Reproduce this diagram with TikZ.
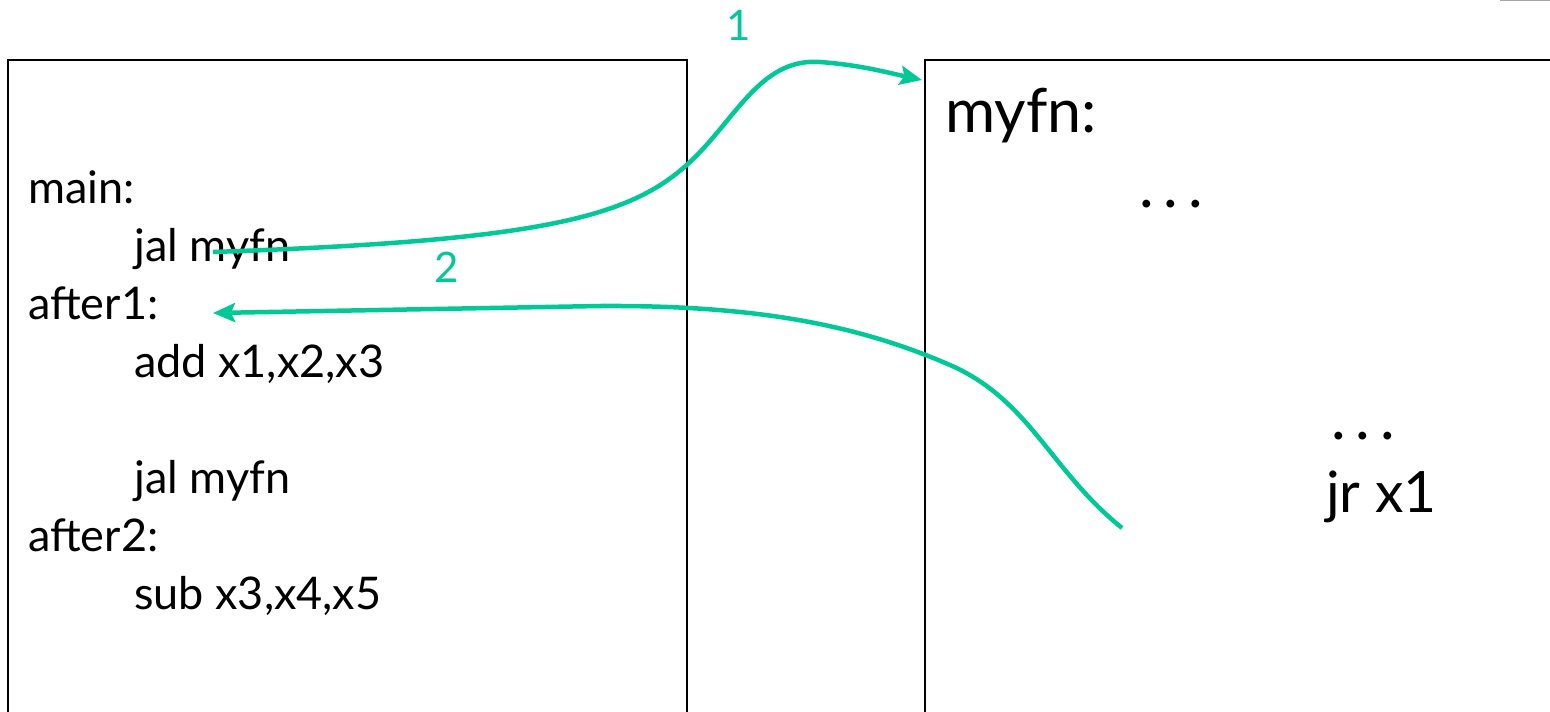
\documentclass[tikz,border=0pt]{standalone}
\usepackage{fontspec}
\setmainfont{Lato}
\usetikzlibrary{arrows.meta}
\definecolor{callgreen}{RGB}{0,200,150}
\tikzset{
  codebox/.style={draw=black, line width=2pt},
  code/.style={anchor=base west, inner sep=0pt, font=\fontsize{45}{47}\selectfont},
  bigcode/.style={anchor=base west, inner sep=0pt, font=\fontsize{58}{60}\selectfont},
  flow/.style={draw=callgreen, line width=4.5pt, -{Stealth[length=22pt,width=19pt,inset=4pt]}},
  flowlabel/.style={text=callgreen, inner sep=0pt, font=\fontsize{42}{44}\selectfont},
}
\begin{document}
\begin{tikzpicture}[x=1pt,y=-1pt]
\useasboundingbox (0,0) rectangle (1550,712);
\clip (0,0) rectangle (1550,712);
% boxes
\draw[codebox] (8,740) -- (8,60) -- (687,60) -- (687,740);
\draw[codebox] (925,740) -- (925,60) -- (1570,60);
\draw[gray!70, line width=1.2pt] (1500,0.6) -- (1550,0.6);
% left code
\node[code] (main) at (28,203) {main:};
\node[code] (jal1) at (134,261) {jal myfn};
\node[code] (after1) at (28,319) {after1:};
\node[code] (add) at (134,377) {add x1,x2,x3};
\node[code] (jal2) at (134,493) {jal myfn};
\node[code] (after2) at (28,551) {after2:};
\node[code] (sub) at (134,609) {sub x3,x4,x5};
% right code
\node[bigcode, font=\fontsize{61}{63}\selectfont] (myfn) at (945,132) {myfn:};
\node[bigcode, font=\fontsize{62}{64}\selectfont] (dots1) at (1139,207) {.\kern10pt.\kern10pt.};
\node[bigcode, font=\fontsize{62}{64}\selectfont] (dots2) at (1331,439) {.\kern10pt.\kern10pt.};
\node[bigcode, font=\fontsize{57}{59}\selectfont] (jr) at (1326,512) {jr x1};
% connectors
\coordinate (s1) at (213,252);
\coordinate (e1) at (922,80);
\coordinate (s2) at (1122,528);
\coordinate (e2) at (213,313);
\draw[flow] (s1) .. controls (560,240) and (640,215) .. (700,152)
  .. controls (740,110) and (765,58) .. (820,62)
  .. controls (860,65) and (885,72) .. (e1);
\draw[flow] (s2) .. controls (1050,470) and (1030,400) .. (950,365)
  .. controls (860,326) and (760,305) .. (600,306) -- (e2);
\node[flowlabel] (l1) at (739,25) {1};
\node[flowlabel] (l2) at (447,267) {2};
\end{tikzpicture}
\end{document}
